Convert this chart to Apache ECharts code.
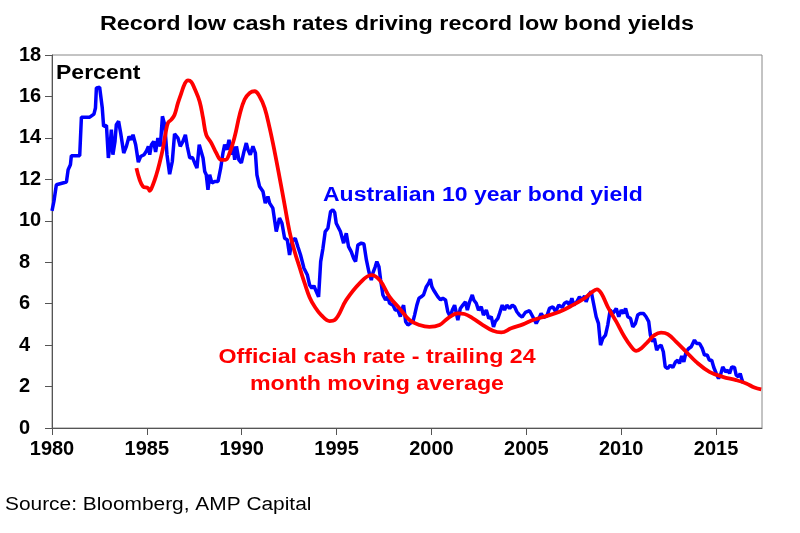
<!DOCTYPE html>
<html>
<head>
<meta charset="utf-8">
<script src="https://cdn.jsdelivr.net/npm/echarts@6/dist/echarts.min.js"></script>
<style>
html,body{margin:0;padding:0;background:#fff;}
#chart{width:800px;height:533px;}
</style>
</head>
<body>
<div id="chart"></div>
<script>
// ---- Data ----
var chartTitle = 'Record low cash rates driving record low bond yields';
var sourceText = 'Source: Bloomberg, AMP Capital';
var unitLabel = 'Percent';
var bondLabel = 'Australian 10 year bond yield';
var cashLabel = ['Official cash rate - trailing 24', 'month moving average'];

var bondDates = [1980.00,1980.10,1980.23,1980.32,1980.76,1980.85,1980.97,1981.02,1981.46,1981.55,1981.99,1982.21,1982.29,1982.34,1982.51,1982.60,1982.65,1982.72,1982.87,1982.97,1983.08,1983.13,1983.21,1983.32,1983.39,1983.51,1983.62,1983.78,1983.92,1984.06,1984.18,1984.27,1984.41,1984.55,1984.67,1984.85,1984.97,1985.08,1985.15,1985.24,1985.36,1985.46,1985.58,1985.71,1985.82,1985.94,1986.06,1986.20,1986.34,1986.46,1986.64,1986.76,1986.90,1987.03,1987.13,1987.26,1987.40,1987.52,1987.64,1987.76,1987.96,1988.05,1988.13,1988.22,1988.31,1988.43,1988.57,1988.75,1988.89,1989.01,1989.10,1989.22,1989.33,1989.45,1989.54,1989.63,1989.72,1989.85,1989.98,1990.12,1990.24,1990.33,1990.45,1990.59,1990.72,1990.80,1990.94,1991.12,1991.24,1991.38,1991.47,1991.64,1991.82,1991.99,1992.12,1992.26,1992.40,1992.52,1992.64,1992.82,1992.96,1993.10,1993.28,1993.46,1993.58,1993.70,1993.80,1993.93,1994.05,1994.16,1994.28,1994.40,1994.54,1994.68,1994.80,1994.90,1994.98,1995.07,1995.20,1995.30,1995.37,1995.51,1995.63,1995.77,1995.90,1996.00,1996.12,1996.30,1996.44,1996.57,1996.70,1996.83,1996.91,1997.04,1997.12,1997.23,1997.32,1997.44,1997.58,1997.70,1997.79,1997.97,1998.09,1998.23,1998.36,1998.46,1998.53,1998.64,1998.76,1998.88,1999.02,1999.11,1999.23,1999.34,1999.46,1999.58,1999.73,1999.85,1999.94,2000.02,2000.11,2000.22,2000.34,2000.48,2000.60,2000.74,2000.86,2000.99,2001.10,2001.22,2001.31,2001.39,2001.52,2001.65,2001.79,2001.89,2002.01,2002.15,2002.23,2002.36,2002.48,2002.62,2002.74,2002.89,2003.02,2003.15,2003.27,2003.36,2003.50,2003.59,2003.73,2003.85,2003.97,2004.12,2004.26,2004.38,2004.50,2004.64,2004.78,2004.95,2005.17,2005.34,2005.52,2005.66,2005.78,2005.91,2006.08,2006.22,2006.40,2006.54,2006.71,2006.89,2007.01,2007.15,2007.28,2007.40,2007.50,2007.66,2007.80,2007.94,2008.07,2008.15,2008.28,2008.42,2008.54,2008.68,2008.80,2008.91,2009.03,2009.17,2009.29,2009.42,2009.56,2009.65,2009.74,2009.87,2010.00,2010.12,2010.23,2010.35,2010.49,2010.61,2010.75,2010.87,2011.00,2011.17,2011.31,2011.45,2011.54,2011.66,2011.75,2011.87,2011.97,2012.10,2012.22,2012.32,2012.45,2012.58,2012.72,2012.86,2012.98,2013.07,2013.19,2013.30,2013.42,2013.56,2013.69,2013.86,2013.98,2014.13,2014.27,2014.39,2014.53,2014.65,2014.77,2014.88,2015.01,2015.13,2015.23,2015.35,2015.50,2015.62,2015.71,2015.83,2015.97,2016.06,2016.18,2016.27,2016.37,2016.44];
var bondYield = [10.48,10.93,11.74,11.82,11.87,12.46,12.70,13.14,13.14,15.00,15.00,15.15,15.44,16.41,16.44,16.49,15.44,14.56,14.60,13.03,13.83,14.40,13.19,13.83,14.64,14.80,14.23,13.27,13.59,14.07,13.91,14.15,13.67,12.83,13.10,13.19,13.35,13.59,13.19,13.67,13.83,13.32,13.99,13.59,15.04,14.64,13.19,12.25,12.86,14.19,13.99,13.59,13.83,14.15,13.59,13.03,13.06,12.79,12.54,13.67,13.03,12.38,12.22,11.49,12.22,11.82,11.90,11.90,12.54,13.27,13.67,13.43,13.91,13.19,13.59,12.94,13.59,12.94,12.79,13.35,13.75,13.43,13.19,13.59,13.27,12.22,11.65,11.41,10.85,11.17,10.85,10.61,9.48,10.13,9.88,9.16,9.08,8.35,8.99,9.16,8.75,8.35,7.71,7.38,6.90,6.74,6.87,6.58,6.33,8.03,8.67,9.48,9.64,10.44,10.53,10.40,9.88,9.96,9.48,9.56,8.92,9.40,8.75,8.51,8.19,8.03,8.83,8.92,8.88,8.11,7.54,7.14,7.47,7.79,8.03,7.79,7.14,6.42,6.18,6.33,6.02,5.93,5.69,5.69,5.37,5.77,5.93,5.13,4.97,5.05,5.13,5.45,5.93,6.26,6.33,6.42,6.82,6.98,7.18,6.82,6.66,6.50,6.33,6.18,6.26,6.18,5.61,5.37,5.69,5.93,5.85,5.21,5.77,5.93,6.09,5.69,6.09,6.42,6.18,6.02,5.69,5.85,5.45,5.69,5.29,5.37,4.88,5.13,5.29,5.53,5.93,5.69,5.93,5.77,5.93,5.85,5.61,5.45,5.35,5.58,5.66,5.37,5.05,5.29,5.53,5.34,5.40,5.77,5.85,5.61,5.93,5.82,6.02,6.09,5.93,6.26,5.93,6.09,6.33,6.18,6.37,6.09,6.42,6.58,6.02,5.37,5.05,4.00,4.32,4.48,4.97,5.69,5.53,5.53,5.77,5.37,5.69,5.53,5.77,5.37,5.29,4.88,5.05,5.45,5.53,5.53,5.37,5.13,4.48,4.16,4.32,3.76,3.92,4.00,3.68,2.95,2.87,3.03,2.92,3.19,3.27,3.11,3.47,3.19,3.68,3.84,3.92,4.24,4.08,4.08,3.84,3.52,3.52,3.27,3.27,2.92,2.63,2.39,2.55,2.95,2.71,2.79,2.63,2.95,2.92,2.55,2.47,2.63,2.31,2.15];

var cashDates = [1984.45,1984.62,1984.80,1985.06,1985.15,1985.32,1985.50,1985.67,1985.85,1985.99,1986.11,1986.29,1986.46,1986.64,1986.82,1986.99,1987.17,1987.34,1987.52,1987.78,1987.96,1988.13,1988.40,1988.66,1988.92,1989.14,1989.36,1989.63,1989.89,1990.15,1990.42,1990.68,1990.94,1991.21,1991.47,1991.73,1992.00,1992.26,1992.52,1992.79,1993.05,1993.31,1993.58,1993.85,1994.19,1994.63,1994.90,1995.51,1996.21,1996.83,1997.27,1997.79,1998.32,1998.84,1999.37,1999.89,2000.42,2000.86,2001.39,2001.74,2002.18,2002.71,2003.24,2003.68,2004.20,2004.82,2005.34,2006.05,2006.75,2007.45,2008.07,2008.42,2008.72,2008.95,2009.29,2009.74,2010.17,2010.53,2010.79,2011.05,2011.40,2011.75,2012.10,2012.45,2012.90,2013.42,2013.95,2014.65,2015.35,2016.06,2016.59,2017.02,2017.38];
var cashAvg = [12.54,11.98,11.65,11.58,11.45,11.74,12.22,12.79,13.51,14.24,14.72,14.88,15.12,15.69,16.17,16.60,16.78,16.70,16.37,15.76,14.96,14.15,13.75,13.27,12.94,12.94,13.27,14.07,15.12,15.85,16.17,16.25,16.00,15.44,14.48,13.35,12.06,10.77,9.48,8.51,7.75,7.00,6.30,5.85,5.45,5.16,5.21,6.18,6.98,7.38,7.14,6.33,5.77,5.21,4.97,4.88,4.97,5.29,5.53,5.50,5.29,4.97,4.69,4.61,4.81,5.00,5.21,5.40,5.61,5.93,6.26,6.53,6.69,6.50,5.85,5.13,4.40,3.92,3.72,3.84,4.16,4.48,4.60,4.53,4.16,3.68,3.19,2.71,2.47,2.31,2.15,1.95,1.86];

var xMin = 1980, xMax = 2017.42, xStep = 5;
var yMin = 0, yMax = 18, yStep = 2;

// ---- Build ----
function zip(a, b){ return a.map(function(v, i){ return [v, b[i]]; }); }
var tickFont = 'Liberation Sans, Arial, sans-serif';
var sx = 1.18;

var chart = echarts.init(document.getElementById('chart'), null, {renderer:'canvas'});
chart.setOption({
  animation: false,
  backgroundColor: '#ffffff',
  grid: {left: 52, right: 38, top: 55, bottom: 105, show: true, borderColor: '#888', borderWidth: 1, containLabel: false},
  xAxis: {
    type: 'value', min: xMin, max: xMax, interval: xStep,
    axisLine: {show: true, lineStyle: {color: '#555', width: 1}},
    axisTick: {show: true, inside: false, length: 7, lineStyle: {color: '#555'}},
    axisLabel: {show: true, margin: 11, showMaxLabel: false, color: '#000', fontWeight: 'bold', fontSize: 20, fontFamily: tickFont,
      formatter: function(v){ return String(Math.round(v)); }},
    splitLine: {show: false}
  },
  yAxis: {
    type: 'value', min: yMin, max: yMax, interval: yStep,
    axisLine: {show: true, lineStyle: {color: '#555', width: 1}},
    axisTick: {show: true, inside: false, length: 7, lineStyle: {color: '#555'}},
    axisLabel: {show: true, margin: 33, align: 'left', color: '#000', fontWeight: 'bold', fontSize: 20, fontFamily: tickFont},
    splitLine: {show: false}
  },
  series: [
    {type: 'line', name: bondLabel, data: zip(bondDates, bondYield), showSymbol: false, symbol: 'none',
     lineStyle: {color: '#0000ff', width: 3.5}, itemStyle: {color: '#0000ff'}, z: 3},
    {type: 'line', name: cashLabel.join(' '), data: zip(cashDates, cashAvg), showSymbol: false, symbol: 'none', smooth: 0.4,
     lineStyle: {color: '#ff0000', width: 3.8}, itemStyle: {color: '#ff0000'}, z: 4}
  ],
  graphic: [
    {type: 'text', x: 397, y: 25, scaleX: 1.2, style: {text: chartTitle, fill: '#000', font: 'bold 19.5px ' + tickFont, textAlign: 'center', textVerticalAlign: 'middle'}},
    {type: 'text', x: 56, y: 74, scaleX: sx, style: {text: unitLabel, fill: '#000', font: 'bold 19.5px ' + tickFont, textAlign: 'left', textVerticalAlign: 'middle'}, z: 10},
    {type: 'text', x: 323, y: 196, scaleX: sx, style: {text: bondLabel, fill: '#0000ff', font: 'bold 19.5px ' + tickFont, textAlign: 'left', textVerticalAlign: 'middle'}, z: 10},
    {type: 'text', x: 377, y: 358, scaleX: 1.19, style: {text: cashLabel[0], fill: '#ff0000', font: 'bold 19.5px ' + tickFont, textAlign: 'center', textVerticalAlign: 'middle'}, z: 10},
    {type: 'text', x: 377, y: 385, scaleX: 1.19, style: {text: cashLabel[1], fill: '#ff0000', font: 'bold 19.5px ' + tickFont, textAlign: 'center', textVerticalAlign: 'middle'}, z: 10},
    {type: 'text', x: 5, y: 505, scaleX: 1.16, style: {text: sourceText, fill: '#000', font: '18px ' + tickFont, textAlign: 'left', textVerticalAlign: 'middle'}, z: 10}
  ]
});
</script>
</body>
</html>
